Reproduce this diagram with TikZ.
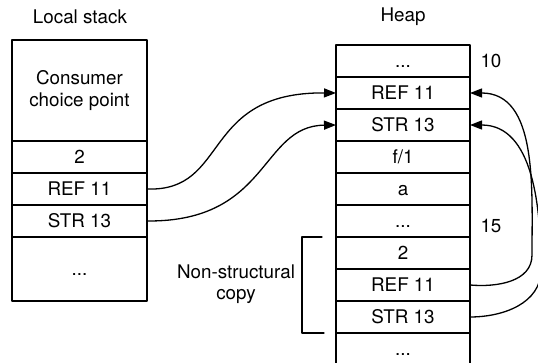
\documentclass[tikz,border=0pt]{standalone}
\usepackage{fontspec}
\setmainfont{TeX Gyre Heros}
\usetikzlibrary{positioning,arrows.meta}

\begin{document}
\begin{tikzpicture}[x=1pt,y=-1pt,line cap=round,line join=round,
  >={Triangle[length=12pt,width=9pt]},
  lbl/.style={font=\fontsize{18.8}{21.5}\selectfont},
  box/.style={lbl,draw,line width=1.4pt,inner sep=0pt,outer sep=0pt,
    minimum height=32pt,align=center},
  cell/.style={box,text height=13.5pt,text depth=0pt},
  scell/.style={cell,minimum width=135pt},
  hcell/.style={cell,minimum width=134pt},
  link/.style={->,line width=1.3pt},
  brace/.style={line width=1.3pt}]
  \clip (0,0) rectangle (538,363);

  % ---- local stack ----
  \node[lbl] (stktitle) at (80,17) {Local stack};
  \node[box,minimum width=135pt,minimum height=101pt] (ccp) at (79.5,90.5)
    {Consumer\\choice point};
  \node[scell,below=0pt of ccp] (snum) {2};
  \node[scell,below=0pt of snum] (sref) {REF 11};
  \node[scell,below=0pt of sref] (sstr) {STR 13};
  \node[scell,minimum height=64pt,below=0pt of sstr] (sdots) {...};

  % ---- heap ----
  \node[lbl] (heaptitle) at (403,17) {Heap};
  \node[hcell] (htop) at (403,61) {...};
  \node[hcell,below=0pt of htop] (hrefa) {REF 11};
  \node[hcell,below=0pt of hrefa] (hstra) {STR 13};
  \node[hcell,below=0pt of hstra] (hfun) {f/1};
  \node[hcell,below=0pt of hfun] (hatom) {a};
  \node[hcell,below=0pt of hatom] (hdots) {...};
  \node[hcell,below=0pt of hdots] (hnum) {2};
  \node[hcell,below=0pt of hnum] (hrefb) {REF 11};
  \node[hcell,below=0pt of hrefb] (hstrb) {STR 13};
  \node[hcell,below=0pt of hstrb] (hend) {...};

  % addresses
  \node[lbl,anchor=west] (adten) at ([xshift=7pt]htop.east) {10};
  \node[lbl,anchor=west] (adfif) at ([xshift=7pt,yshift=-5pt]hdots.east) {15};

  % ---- non-structural copy bracket ----
  \draw[brace] ([xshift=-14pt]hnum.north west) -- ([xshift=-34pt]hnum.north west)
    -- ([xshift=-34pt]hstrb.south west) -- ([xshift=-12pt]hstrb.south west);
  \node[lbl,align=center] (nscopy) at (236,284) {Non-structural\\copy};

  % ---- pointers ----
  \draw[link] (sref.east) .. controls (230,192) and (200,92) .. (hrefa.west);
  \draw[link] (sstr.east) .. controls (270,222) and (260,126) .. (hstra.west);
  \coordinate (turna) at (532,255);
  \coordinate (turnb) at (541,270);
  \draw[link] (hrefb.east) to[out=-5,in=-90] (turna) to[out=90,in=0] (hrefa.east);
  \draw[link] (hstrb.east) to[out=0,in=-90] (turnb) to[out=90,in=0] (hstra.east);
\end{tikzpicture}
\end{document}
